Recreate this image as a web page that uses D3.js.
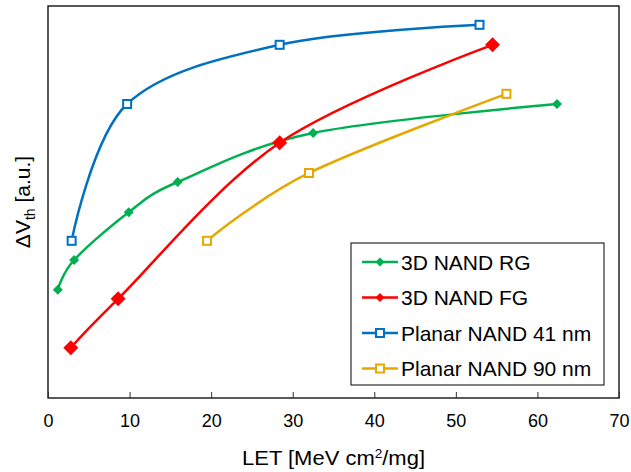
<!DOCTYPE html>
<html>
<head>
<meta charset="utf-8">
<script src="https://cdn.jsdelivr.net/npm/d3@7"></script>
<style>
  body { margin: 0; background: #fff; }
  text { font-family: "Liberation Sans", Arial, sans-serif; fill: #000; }
</style>
</head>
<body>
<div id="chart"></div>
<script>
// values (y is arbitrary units, 0..100)
const rgX = [1.2, 3.2, 9.9, 15.9, 32.5, 62.4];
const rgY = [27.6, 35.2, 47.4, 55.1, 67.6, 75.0];
const fgX = [2.8, 8.6, 28.4, 54.5];
const fgY = [12.8, 25.3, 65.1, 90.1];
const p41X = [2.9, 9.7, 28.4, 52.9];
const p41Y = [40.1, 75.0, 90.1, 95.2];
const p90X = [19.5, 32.0, 56.2];
const p90Y = [40.1, 57.4, 77.6];
const xTicks = [0, 10, 20, 30, 40, 50, 60, 70];

const series = [
    { name: "3D NAND RG", xs: rgX, ys: rgY, color: "#00b050", marker: "diamond", size: 10 },
    { name: "3D NAND FG", xs: fgX, ys: fgY, color: "#ff0000", marker: "diamond", size: 15 },
    { name: "Planar NAND 41 nm", xs: p41X, ys: p41Y, color: "#0070c0", marker: "square", size: 10 },
    { name: "Planar NAND 90 nm", xs: p90X, ys: p90Y, color: "#e5a800", marker: "square", size: 10 }
];

const width = 631, height = 472;
const margin = { top: 6, left: 48, right: 12, bottom: 74 };

const svg = d3.select("#chart").append("svg")
    .attr("width", width)
    .attr("height", height);

const x = d3.scaleLinear().domain([0, 70]).range([margin.left, width - margin.right]);
const y = d3.scaleLinear().domain([0, 100]).range([height - margin.bottom, margin.top]);

// frame
svg.append("rect")
    .attr("x", x(0)).attr("y", y(100))
    .attr("width", x(70) - x(0)).attr("height", y(0) - y(100))
    .attr("fill", "none").attr("stroke", "#000").attr("stroke-width", 1.3);

// x axis, ticks pointing inward
const xAxis = svg.append("g")
    .attr("transform", `translate(0,${y(0)})`)
    .call(d3.axisBottom(x).tickValues(xTicks).tickSizeInner(-6).tickSizeOuter(0).tickPadding(16));
xAxis.select(".domain").remove();
xAxis.selectAll(".tick line").attr("stroke", "#333");
xAxis.selectAll("text").attr("font-size", 18).style("font-family", "Liberation Sans, Arial, sans-serif");

svg.append("text")
    .attr("x", (x(0) + x(70)) / 2).attr("y", 465)
    .attr("text-anchor", "middle").attr("font-size", 21)
    .attr("textLength", 183).attr("lengthAdjust", "spacingAndGlyphs")
    .html('LET [MeV cm<tspan baseline-shift="super" font-size="13">2</tspan>/mg]');

svg.append("text")
    .attr("transform", `translate(30,${(y(0) + y(100)) / 2}) rotate(-90)`)
    .attr("text-anchor", "middle").attr("font-size", 21)
    .html('ΔV<tspan font-size="14" dy="5">th</tspan><tspan dy="-5"> [a.u.]</tspan>');

const line = d3.line()
    .x(d => x(d[0])).y(d => y(d[1]))
    .curve(d3.curveCardinal.tension(0));

function drawMarker(g, type, size, color) {
    const h = size / 2;
    if (type === "diamond") {
        g.append("path")
            .attr("d", `M0,${-h}L${h},0L0,${h}L${-h},0Z`)
            .attr("fill", color);
    } else {
        g.append("rect")
            .attr("x", -h + 1).attr("y", -h + 1)
            .attr("width", size - 2).attr("height", size - 2)
            .attr("fill", "#fff").attr("stroke", color).attr("stroke-width", 2);
    }
}

series.forEach(s => {
    const pts = s.xs.map((v, i) => [v, s.ys[i]]);
    svg.append("path")
        .datum(pts)
        .attr("d", line)
        .attr("fill", "none")
        .attr("stroke", s.color)
        .attr("stroke-width", 2.5);
    pts.forEach(p => {
        const g = svg.append("g").attr("transform", `translate(${x(p[0])},${y(p[1])})`);
        drawMarker(g, s.marker, s.size, s.color);
    });
});

// legend
const legend = svg.append("g");
legend.append("rect")
    .attr("x", 351).attr("y", 243).attr("width", 253).attr("height", 142)
    .attr("fill", "#fff").attr("stroke", "#000").attr("stroke-width", 1);

series.forEach((s, i) => {
    const ly = 262 + i * 35.5;
    legend.append("line")
        .attr("x1", 362).attr("x2", 398).attr("y1", ly).attr("y2", ly)
        .attr("stroke", s.color).attr("stroke-width", 2.5);
    const g = legend.append("g").attr("transform", `translate(380,${ly})`);
    drawMarker(g, s.marker, s.marker === "diamond" ? 9 : 10, s.color);
    legend.append("text")
        .attr("x", 401).attr("y", ly + 7.5)
        .attr("font-size", 21)
        .text(s.name);
});
</script>
</body>
</html>
